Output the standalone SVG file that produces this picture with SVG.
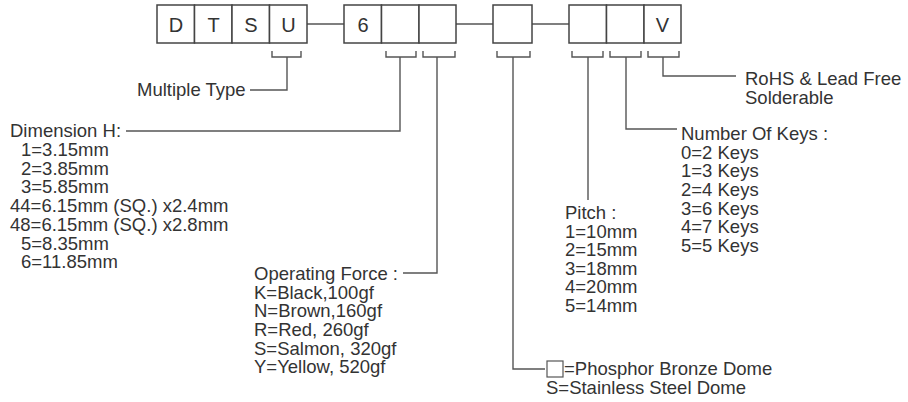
<svg xmlns="http://www.w3.org/2000/svg" width="908" height="402" viewBox="0 0 908 402">
<style>
.bx{fill:#fff;stroke:#444;stroke-width:1.5}
.ln{fill:none;stroke:#555;stroke-width:1.4}
.bt{font-family:"Liberation Sans",Arial,sans-serif;font-size:20px;fill:#333;text-anchor:middle}
.t{font-family:"Liberation Sans",Arial,sans-serif;font-size:18.5px;fill:#333}
</style>
<rect width="908" height="402" fill="#fff"/>
<g id="connectors">
<path class="ln" d="M307,24H344M456,24H493M532,24H569"/>
<path class="ln" d="M272,51V57H301V51M287,57V90H250"/>
<path class="ln" d="M386,51V57H416V51M400,57V131H126"/>
<path class="ln" d="M423,51V57H455V51M437,57V273H403"/>
<path class="ln" d="M497,51V57H530V51M513,57V369H545"/>
<path class="ln" d="M572,51V57H603V51M588,57V200"/>
<path class="ln" d="M610,51V57H641V51M626,57V129H677"/>
<path class="ln" d="M648,51V57H679V51M663,57V76H736"/>
</g>
<g id="code1">
<rect class="bx" x="157" y="5" width="37.5" height="38"/>
<rect class="bx" x="194.5" y="5" width="37.5" height="38"/>
<rect class="bx" x="232" y="5" width="37.5" height="38"/>
<rect class="bx" x="269.5" y="5" width="37.5" height="38"/>
<text class="bt" x="176" y="32">D</text>
<text class="bt" x="213.5" y="32">T</text>
<text class="bt" x="251" y="32">S</text>
<text class="bt" x="288.5" y="32">U</text>
</g>
<g id="code2">
<rect class="bx" x="344" y="5" width="37.5" height="38"/>
<rect class="bx" x="381.5" y="5" width="37.5" height="38"/>
<rect class="bx" x="419" y="5" width="37" height="38"/>
<text class="bt" x="363" y="32">6</text>
</g>
<g id="code3">
<rect class="bx" x="493" y="5" width="39" height="38"/>
</g>
<g id="code4">
<rect class="bx" x="569" y="5" width="37.5" height="38"/>
<rect class="bx" x="606.5" y="5" width="37.5" height="38"/>
<rect class="bx" x="644" y="5" width="37" height="38"/>
<text class="bt" x="662.5" y="32">V</text>
</g>
<g id="multiple-type">
<text class="t" x="137" y="96">Multiple Type</text>
</g>
<g id="dimension">
<text class="t" x="10" y="137">Dimension H:</text>
<text class="t" x="21" y="156">1=3.15mm</text>
<text class="t" x="21" y="174.5">2=3.85mm</text>
<text class="t" x="21" y="193">3=5.85mm</text>
<text class="t" x="10" y="212">44=6.15mm (SQ.) x2.4mm</text>
<text class="t" x="10" y="231">48=6.15mm (SQ.) x2.8mm</text>
<text class="t" x="21" y="249.5">5=8.35mm</text>
<text class="t" x="21" y="268">6=11.85mm</text>
</g>
<g id="force">
<text class="t" x="254" y="280">Operating Force :</text>
<text class="t" x="254" y="298.7">K=Black,100gf</text>
<text class="t" x="254" y="317.3">N=Brown,160gf</text>
<text class="t" x="254" y="336">R=Red, 260gf</text>
<text class="t" x="254" y="354.7">S=Salmon, 320gf</text>
<text class="t" x="254" y="373.3">Y=Yellow, 520gf</text>
</g>
<g id="dome">
<rect x="547" y="361" width="16" height="16" fill="#fff" stroke="#555" stroke-width="1.2"/>
<text class="t" x="564" y="375">=Phosphor Bronze Dome</text>
<text class="t" x="546" y="394">S=Stainless Steel Dome</text>
</g>
<g id="pitch">
<text class="t" x="565" y="219">Pitch :</text>
<text class="t" x="565" y="237.6">1=10mm</text>
<text class="t" x="565" y="256.2">2=15mm</text>
<text class="t" x="565" y="274.8">3=18mm</text>
<text class="t" x="565" y="293.4">4=20mm</text>
<text class="t" x="565" y="312">5=14mm</text>
</g>
<g id="keys">
<text class="t" x="681" y="140">Number Of Keys :</text>
<text class="t" x="681" y="158.7">0=2 Keys</text>
<text class="t" x="681" y="177.3">1=3 Keys</text>
<text class="t" x="681" y="196">2=4 Keys</text>
<text class="t" x="681" y="214.7">3=6 Keys</text>
<text class="t" x="681" y="233.3">4=7 Keys</text>
<text class="t" x="681" y="252">5=5 Keys</text>
</g>
<g id="rohs">
<text class="t" x="745" y="85">RoHS &amp; Lead Free</text>
<text class="t" x="745" y="104">Solderable</text>
</g>
</svg>
